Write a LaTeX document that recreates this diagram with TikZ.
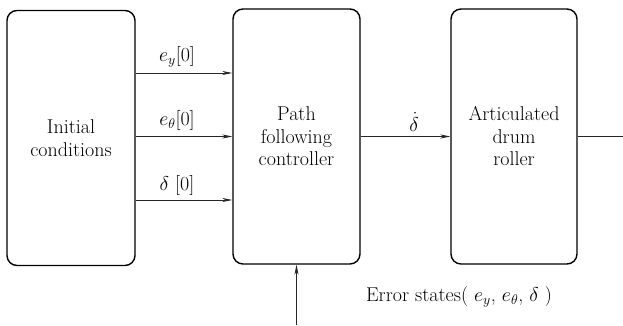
\RequirePackage{fix-cm}
\documentclass[tikz,border=0pt]{standalone}
\usepackage{fontspec}
\setmainfont{Latin Modern Roman}
\usetikzlibrary{arrows.meta}
\begin{document}
\begin{tikzpicture}[x=1pt,y=-1pt,
  blk/.style={draw, line width=1.4pt, rounded corners=10pt, minimum height=255pt, align=center, font=\fontsize{20}{22.5}\selectfont, inner sep=0pt},
  arr/.style={draw=black!85, line width=0.9pt, -{Stealth[length=10pt,width=4pt,inset=3pt]}},
  lbl/.style={font=\fontsize{20}{22.5}\selectfont, inner sep=0pt}]
\useasboundingbox (0,0) rectangle (623,325);
\node[blk, minimum width=128pt] (ic) at (71,138) {Initial\\conditions};
\node[blk, minimum width=127pt] (pfc) at (296.5,136.5) {Path\\following\\controller};
\node[blk, minimum width=126pt] (adr) at (514,136.5) {Articulated\\drum\\roller};
\coordinate (r1) at (0,73);
\coordinate (r2) at (0,136.5);
\coordinate (r3) at (0,200);
\draw[arr] (ic.east |- r1) -- (pfc.west |- r1);
\draw[arr] (ic.east |- r2) -- (pfc.west |- r2);
\draw[arr] (ic.east |- r3) -- (pfc.west |- r3);
\node[lbl] (l1) at (177,57) {$e_y[0]$};
\node[lbl] (l2) at (177,120) {$e_\theta[0]$};
\node[lbl] (l3) at (177,185) {$\delta\ [0]$};
\draw[arr] (pfc) -- (adr);
\node[lbl] (l4) at (414,122) {$\dot{\delta}$};
\coordinate (out) at (623,136.5);
\draw[black!85, line width=0.9pt] (adr) -- (out);
\coordinate (bot) at (296.5,325);
\draw[arr] (bot) -- (pfc.south);
\node[lbl] (err) at (459,297) {Error states( $e_y$, $e_\theta$, $\delta$ )};
\end{tikzpicture}
\end{document}
